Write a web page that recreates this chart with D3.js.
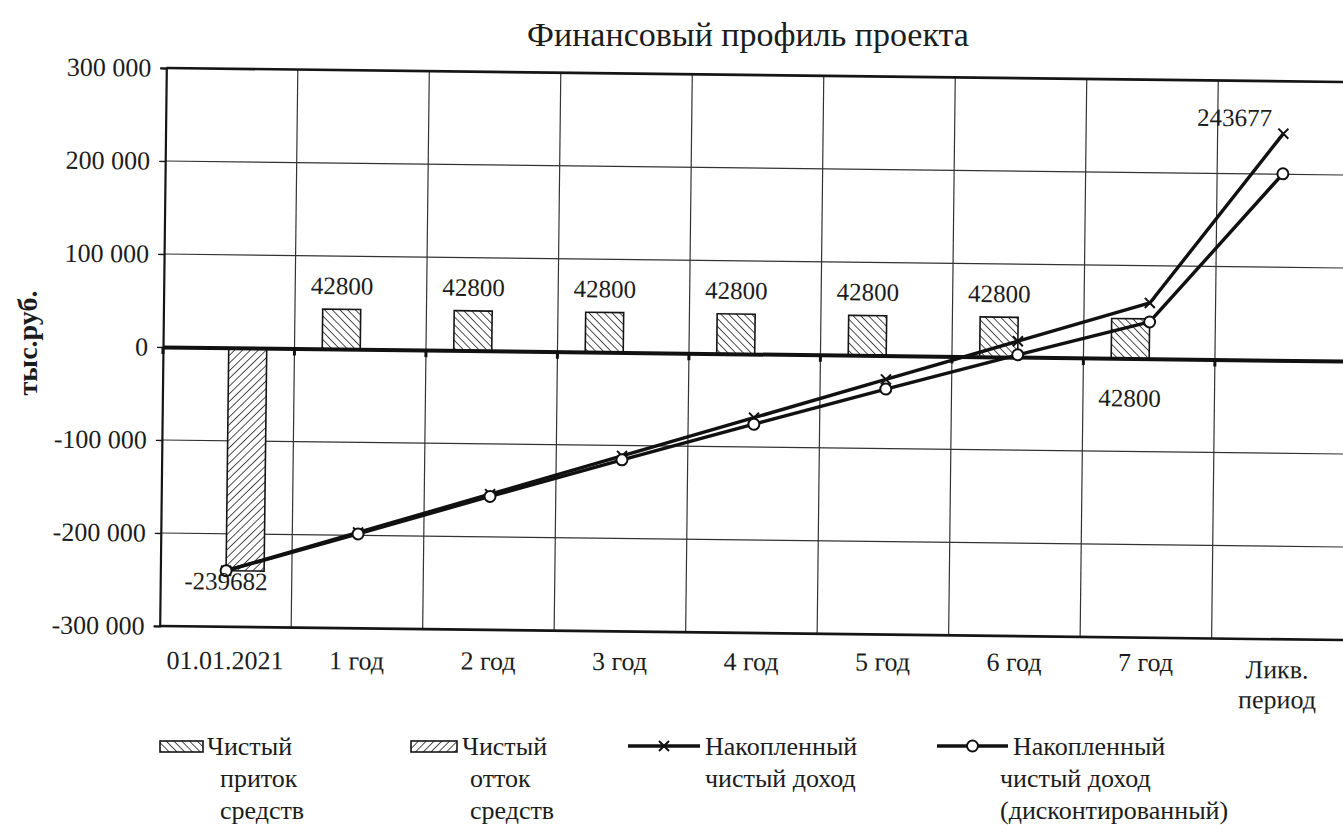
<!DOCTYPE html>
<html>
<head>
<meta charset="utf-8">
<script src="https://cdn.jsdelivr.net/npm/d3@7"></script>
<style>
  body { margin: 0; background: #fff; }
  svg text { font-family: "Liberation Serif", "Noto Serif", "DejaVu Serif", "Nimbus Roman", "FreeSerif", "Times New Roman", Times, serif !important; fill: #1c1c1c; }
</style>
</head>
<body>
<svg id="chart" width="1343" height="832"></svg>
<script>
// ---- data ----
const categories = ["01.01.2021", "1 год", "2 год", "3 год", "4 год", "5 год", "6 год", "7 год", "Ликв. период"];
const netInflow = [null, 42800, 42800, 42800, 42800, 42800, 42800, 42800, null];
const netOutflow = [-239682, null, null, null, null, null, null, null, null];
const cumulativeIncome = [-239682, -196882, -154082, -111282, -68482, -25682, 17118, 59918, 243677];
const discountedIncome = [-239682, -198500, -156500, -115500, -75500, -36000, 2500, 39500, 200500];
const yTicks = [-300000, -200000, -100000, 0, 100000, 200000, 300000];
const inflowLabelsBelow = ["7 год"];
const cumulativeLabelled = ["01.01.2021", "Ликв. период"];

const chartTitle = "Финансовый профиль проекта";
const yTitle = "тыс.руб.";

const svg = d3.select("#chart");

// hatch patterns for the two bar series
const defs = svg.append("defs");
function hatch(id, dir) {
  const p = defs.append("pattern")
    .attr("id", id).attr("patternUnits", "userSpaceOnUse")
    .attr("width", 5.5).attr("height", 5.5)
    .attr("patternTransform", `rotate(${dir})`);
  p.append("rect").attr("width", 5.5).attr("height", 5.5).attr("fill", "#fff");
  p.append("line").attr("x1", 0).attr("y1", 0).attr("x2", 0).attr("y2", 5.5)
    .attr("stroke", "#222").attr("stroke-width", 1.6);
}
hatch("hatchIn", -45);
hatch("hatchOut", 45);

// ---- scales ----
const plotLeft = 163, plotTop = 68, plotBottom = 626, band = 131.5;
const x = d3.scaleBand().domain(categories).range([plotLeft, plotLeft + band * categories.length]).padding(0);
const y = d3.scaleLinear().domain([-300000, 300000]).range([plotBottom, plotTop]);
const xs = d3.scaleBand().domain(["inflow", "outflow"])
  .range([x.bandwidth() / 2 - 38, x.bandwidth() / 2 + 38]).padding(0);
const cx = c => x(c) + x.bandwidth() / 2;
const fmt = d3.formatLocale({ decimal: ",", thousands: " ", grouping: [3], currency: ["", ""], minus: "-" }).format(",d");

// plot group (slightly tilted, as printed)
const tilt = 0.68;
const g = svg.append("g").attr("transform", `rotate(${tilt}, ${plotLeft}, ${y(0)})`);
const plotRight = x.range()[1];

// gridlines
g.append("g").selectAll("line").data(yTicks.filter(t => t !== 300000 && t !== -300000 && t !== 0))
  .join("line")
  .attr("x1", plotLeft).attr("x2", plotRight)
  .attr("y1", d => y(d)).attr("y2", d => y(d))
  .attr("stroke", "#333").attr("stroke-width", 1.2);
g.append("g").selectAll("line").data(categories.slice(1))
  .join("line")
  .attr("x1", d => x(d)).attr("x2", d => x(d))
  .attr("y1", plotTop).attr("y2", plotBottom)
  .attr("stroke", "#333").attr("stroke-width", 1.2);

// plot frame
g.append("line").attr("x1", plotLeft).attr("x2", plotRight).attr("y1", plotTop).attr("y2", plotTop)
  .attr("stroke", "#151515").attr("stroke-width", 2.6);
g.append("line").attr("x1", plotLeft).attr("x2", plotRight).attr("y1", plotBottom).attr("y2", plotBottom)
  .attr("stroke", "#151515").attr("stroke-width", 2.6);

// y axis
const yAxis = d3.axisLeft(y).tickValues(yTicks).tickSize(6).tickPadding(9).tickFormat(fmt);
const ya = g.append("g").attr("transform", `translate(${plotLeft},0)`).call(yAxis);
ya.attr("font-family", null).attr("font-size", null);
ya.select(".domain").attr("stroke", "#151515").attr("stroke-width", 2.2);
ya.selectAll(".tick line").attr("stroke", "#151515").attr("stroke-width", 1.3);
ya.selectAll(".tick text").style("font-size", "26px");

// bars
g.append("g").selectAll("rect")
  .data(categories.map((c, i) => ({ c, v: netInflow[i] })).filter(d => d.v != null))
  .join("rect")
  .attr("x", d => x(d.c) + xs("inflow")).attr("width", xs.bandwidth())
  .attr("y", d => y(Math.max(0, d.v))).attr("height", d => Math.abs(y(d.v) - y(0)))
  .attr("fill", "url(#hatchIn)").attr("stroke", "#151515").attr("stroke-width", 1.6);
g.append("g").selectAll("rect")
  .data(categories.map((c, i) => ({ c, v: netOutflow[i] })).filter(d => d.v != null))
  .join("rect")
  .attr("x", d => x(d.c) + xs("outflow")).attr("width", xs.bandwidth())
  .attr("y", d => y(Math.max(0, d.v))).attr("height", d => Math.abs(y(d.v) - y(0)))
  .attr("fill", "url(#hatchOut)").attr("stroke", "#151515").attr("stroke-width", 1.6);

// category axis on zero line
const xAxis = d3.axisBottom(x).tickSize(0).tickFormat("");
const xa = g.append("g").attr("transform", `translate(0,${y(0)})`).call(xAxis);
xa.select(".domain").attr("stroke", "#111").attr("stroke-width", 4);
g.append("g").selectAll("line").data(categories.concat(["end"]).map((c, i) => plotLeft + i * band))
  .join("line")
  .attr("x1", d => d).attr("x2", d => d)
  .attr("y1", y(0)).attr("y2", y(0) + 7)
  .attr("stroke", "#111").attr("stroke-width", 3);

// category labels below the plot (print tilt is milder down here)
const catLabels = svg.append("g").attr("transform", `rotate(0.12, ${plotLeft}, ${y(0)})`);
categories.forEach(c => {
  const words = c === "Ликв. период" ? ["Ликв.", "период"] : [c];
  const t = catLabels.append("text").attr("x", cx(c) - 3).attr("y", plotBottom + 43 + (words.length > 1 ? 7 : 0))
    .attr("text-anchor", "middle").style("font-size", "26px");
  words.forEach((w, i) => t.append("tspan").attr("x", cx(c) - 3).attr("dy", i ? 30 : 0).text(w));
});

// lines
const lineGen = d3.line().x((d, i) => cx(categories[i])).y(d => y(d));
g.append("path").datum(cumulativeIncome).attr("d", lineGen)
  .attr("fill", "none").attr("stroke", "#111").attr("stroke-width", 3.4).attr("stroke-linejoin", "round");
g.append("path").datum(discountedIncome).attr("d", lineGen)
  .attr("fill", "none").attr("stroke", "#111").attr("stroke-width", 3.4).attr("stroke-linejoin", "round");

// markers
function crossMarker(sel, px, py) {
  sel.append("path")
    .attr("d", `M${px - 5},${py - 5}L${px + 5},${py + 5}M${px - 5},${py + 5}L${px + 5},${py - 5}`)
    .attr("stroke", "#111").attr("stroke-width", 2);
}
function circleMarker(sel, px, py) {
  sel.append("circle").attr("cx", px).attr("cy", py).attr("r", 5.5)
    .attr("fill", "#fff").attr("stroke", "#111").attr("stroke-width", 2);
}
const mk = g.append("g");
cumulativeIncome.forEach((v, i) => crossMarker(mk, cx(categories[i]), y(v)));
discountedIncome.forEach((v, i) => circleMarker(mk, cx(categories[i]), y(v)));

// data labels
const lbl = g.append("g");
categories.forEach((c, i) => {
  const v = netInflow[i];
  if (v == null) return;
  const bx = x(c) + xs("inflow") + xs.bandwidth() / 2;
  const below = inflowLabelsBelow.includes(c);
  lbl.append("text").attr("x", bx)
    .attr("y", below ? y(0) + 48 : y(v) - 15)
    .attr("text-anchor", "middle").style("font-size", "25px").text(v);
});
categories.forEach((c, i) => {
  if (!cumulativeLabelled.includes(c)) return;
  const v = cumulativeIncome[i];
  const first = i === 0;
  lbl.append("text")
    .attr("x", cx(c) + (first ? 0 : -49))
    .attr("y", y(v) + (first ? 19 : -7))
    .attr("text-anchor", "middle").style("font-size", "25px").text(v);
});

// axis title
svg.append("text").attr("transform", "translate(37,343) rotate(-90)")
  .attr("text-anchor", "middle").style("font-size", "28px").style("font-weight", "bold").text(yTitle);

// chart title
svg.append("text").attr("x", 748).attr("y", 46).attr("text-anchor", "middle")
  .style("font-size", "34px").text(chartTitle);

// legend
const legendItems = [
  { kind: "inflow", sx: 160, sw: 43, lines: [["Чистый", 207], ["приток", 220], ["средств", 220]] },
  { kind: "outflow", sx: 411, sw: 46, lines: [["Чистый", 462], ["отток", 470], ["средств", 470]] },
  { kind: "cumulative", sx: 628, sw: 72, lines: [["Накопленный", 705], ["чистый доход", 705]] },
  { kind: "discounted", sx: 937, sw: 71, lines: [["Накопленный", 1013], ["чистый доход", 1000], ["(дисконтированный)", 1000]] }
];
const lg = svg.append("g");
legendItems.forEach(it => {
  const ly = 746;
  if (it.kind === "inflow" || it.kind === "outflow") {
    lg.append("rect").attr("x", it.sx).attr("y", ly - 5).attr("width", it.sw).attr("height", 11)
      .attr("fill", it.kind === "inflow" ? "url(#hatchIn)" : "url(#hatchOut)")
      .attr("stroke", "#151515").attr("stroke-width", 1.6);
  } else {
    lg.append("line").attr("x1", it.sx).attr("x2", it.sx + it.sw).attr("y1", ly).attr("y2", ly)
      .attr("stroke", "#111").attr("stroke-width", 3.4);
    if (it.kind === "cumulative") crossMarker(lg, it.sx + it.sw / 2, ly);
    else circleMarker(lg, it.sx + it.sw / 2, ly);
  }
  it.lines.forEach(([t, tx], i) => {
    lg.append("text").attr("x", tx).attr("y", ly + 9 + i * 32).style("font-size", "26px").text(t);
  });
});
</script>
</body>
</html>
